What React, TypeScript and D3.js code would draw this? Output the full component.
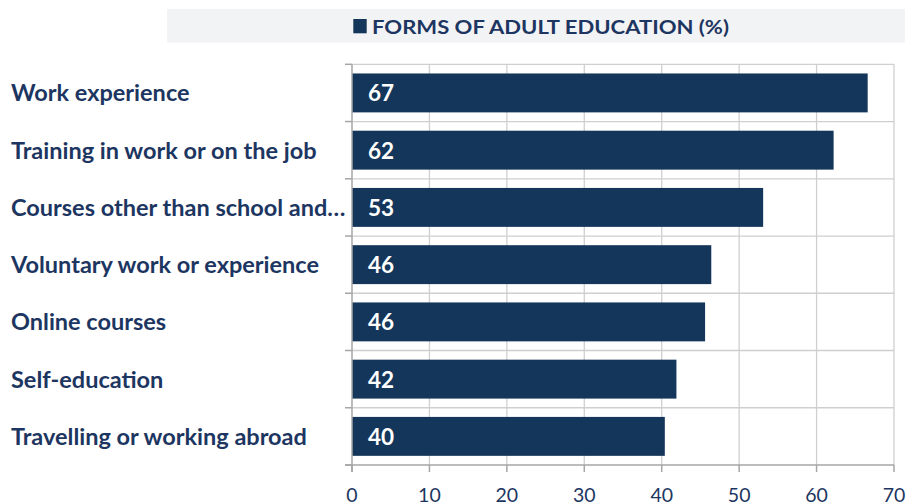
import React from "react";
import * as d3 from "d3";

const categories = [
  "Work experience",
  "Training in work or on the job",
  "Courses other than school and…",
  "Voluntary work or experience",
  "Online courses",
  "Self-education",
  "Travelling or working abroad",
];
const values = [66.6, 62.2, 53.1, 46.4, 45.6, 41.9, 40.4];
const valueLabels = ["67", "62", "53", "46", "46", "42", "40"];
const ticks = [0, 10, 20, 30, 40, 50, 60, 70];
const title = "FORMS OF ADULT EDUCATION (%)";

const W = 909;
const H = 504;
const BAR = "#14365b";
const NAVY = "#1d3661";
const GRID = "#cfcfcf";
const AXIS = "#a6a6a6";
const FONT = "Lato, 'Open Sans', sans-serif";

export default function App() {
  const x = d3.scaleLinear().domain([0, 70]).range([352, 894]);
  const y = d3
    .scaleBand<string>()
    .domain(categories)
    .range([64.3, 465])
    .paddingInner(0.32)
    .paddingOuter(0.16);
  const step = y.step();
  const top = 64.3;
  const bottom = 465;
  const boundaries = d3.range(categories.length + 1).map((i) => top + i * step);

  return (
    <svg
      width={W}
      height={H}
      style={{ position: "absolute", left: 0, top: 0, display: "block" }}
    >
      <rect x={0} y={0} width={W} height={H} fill="#ffffff" />
      {/* title box */}
      <rect x={167} y={9} width={738} height={33.7} fill="#f2f3f5" />
      <rect x={353.3} y={19} width={13.4} height={14.3} fill={BAR} />
      <text
        x={372}
        y={33.5}
        fill={NAVY}
        fontFamily={FONT}
        fontWeight={700}
        fontSize={19.5}
        textLength={357}
        lengthAdjust="spacingAndGlyphs"
      >
        {title}
      </text>

      {/* vertical gridlines */}
      {ticks.slice(1).map((t) => (
        <line
          key={"vg" + t}
          x1={x(t)}
          x2={x(t)}
          y1={top}
          y2={bottom}
          stroke={GRID}
          strokeWidth={1.3}
        />
      ))}
      {/* horizontal gridlines */}
      {boundaries.slice(0, -1).map((b, i) => (
        <line
          key={"hg" + i}
          x1={x(0)}
          x2={x(70)}
          y1={b}
          y2={b}
          stroke={GRID}
          strokeWidth={1.3}
        />
      ))}

      {/* bars */}
      {categories.map((c, i) => (
        <rect
          key={"bar" + c}
          x={x(0)}
          y={y(c)!}
          width={x(values[i]) - x(0)}
          height={y.bandwidth()}
          fill={BAR}
        />
      ))}

      {/* axes */}
      <line x1={x(0)} x2={x(0)} y1={top} y2={bottom + 7} stroke={AXIS} strokeWidth={1.5} />
      <line x1={x(0) - 7} x2={x(70)} y1={bottom} y2={bottom} stroke={AXIS} strokeWidth={1.5} />
      {boundaries.map((b, i) => (
        <line
          key={"yt" + i}
          x1={x(0) - 7}
          x2={x(0)}
          y1={b}
          y2={b}
          stroke={AXIS}
          strokeWidth={1.5}
        />
      ))}
      {ticks.map((t) => (
        <line
          key={"xt" + t}
          x1={x(t)}
          x2={x(t)}
          y1={bottom}
          y2={bottom + 7}
          stroke={AXIS}
          strokeWidth={1.5}
        />
      ))}
      {ticks.map((t) => (
        <text
          key={"xl" + t}
          x={x(t)}
          y={501.5}
          textAnchor="middle"
          fill={NAVY}
          fontFamily={FONT}
          fontSize={19.5}
        >
          {t}
        </text>
      ))}

      {/* value labels */}
      {categories.map((c, i) => (
        <text
          key={"vl" + c}
          x={x(0) + 16}
          y={y(c)! + y.bandwidth() / 2 + 8.5}
          fill="#ffffff"
          fontFamily={FONT}
          fontWeight={700}
          fontSize={22.5}
        >
          {valueLabels[i]}
        </text>
      ))}

      {/* category labels */}
      {categories.map((c) => (
        <text
          key={"cl" + c}
          x={11}
          y={y(c)! + y.bandwidth() / 2 + 8.5}
          fill={NAVY}
          fontFamily={FONT}
          fontWeight={700}
          fontSize={23.5}
        >
          {c}
        </text>
      ))}
    </svg>
  );
}
